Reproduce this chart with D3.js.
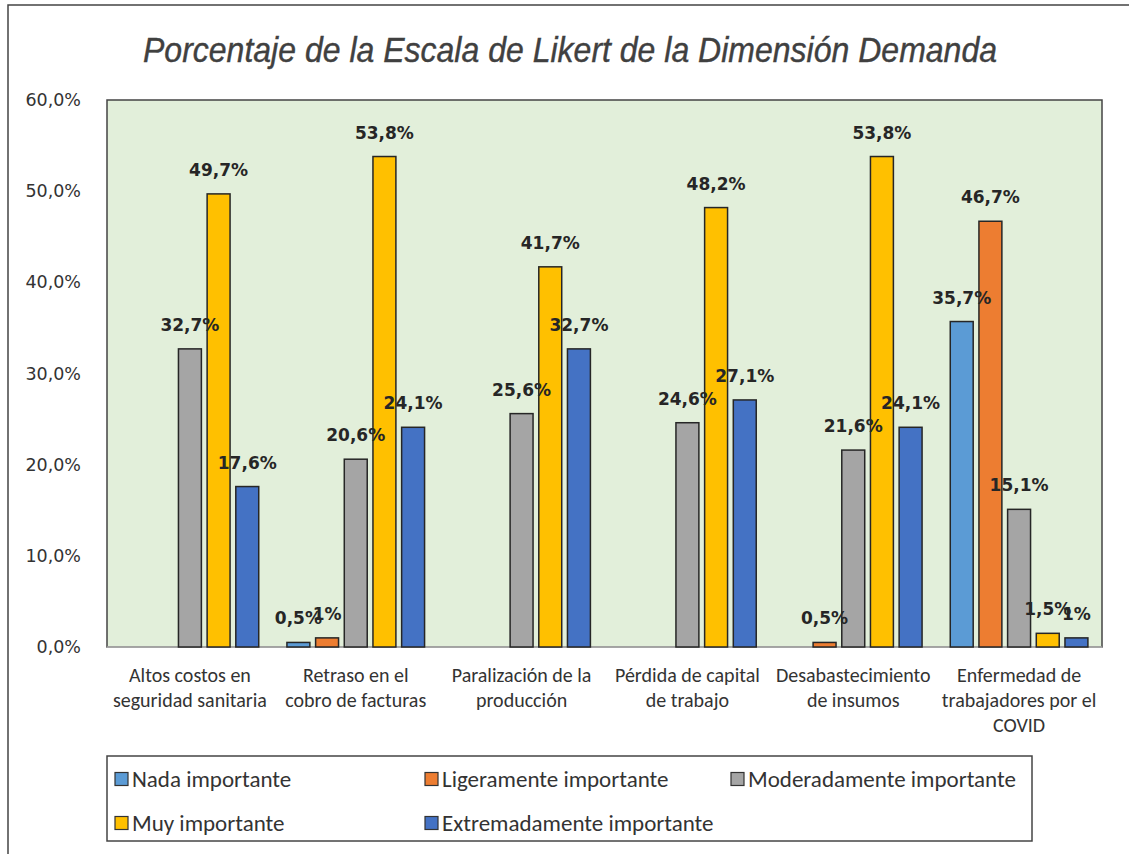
<!DOCTYPE html>
<html>
<head>
<meta charset="utf-8">
<script src="https://cdn.jsdelivr.net/npm/d3@7"></script>
<style>
  body { margin: 0; background: #fff; }
</style>
</head>
<body>
<div id="chart"></div>
<script>
// Chart data
const categories = [
  ["Altos costos en", "seguridad sanitaria"],
  ["Retraso en el", "cobro de facturas"],
  ["Paralización de la", "producción"],
  ["Pérdida de capital", "de trabajo"],
  ["Desabastecimiento", "de insumos"],
  ["Enfermedad de", "trabajadores por el", "COVID"]
];
const seriesNames = ["Nada importante", "Ligeramente importante", "Moderadamente importante", "Muy importante", "Extremadamente importante"];
const seriesColors = ["#5B9BD5", "#ED7D31", "#A5A5A5", "#FFC000", "#4472C4"];
const nada = [0, 0.5, 0, 0, 0, 35.7];
const ligeramente = [0, 1, 0, 0, 0.5, 46.7];
const moderadamente = [32.7, 20.6, 25.6, 24.6, 21.6, 15.1];
const muy = [49.7, 53.8, 41.7, 48.2, 53.8, 1.5];
const extremadamente = [17.6, 24.1, 32.7, 27.1, 24.1, 1];
const yTicks = [0, 10, 20, 30, 40, 50, 60];

const series = [nada, ligeramente, moderadamente, muy, extremadamente];
const fmtLabel = v => (v === 1 ? "1%" : d3.format(".1f")(v).replace(".", ",") + "%");

const W = 1129, H = 854;
const plot = { left: 107, right: 1102, top: 100, bottom: 647 };

const svg = d3.select("#chart").append("svg")
  .attr("width", W).attr("height", H);

// outer chart border
svg.append("rect")
  .attr("x", 8).attr("y", 5).attr("width", W + 20).attr("height", H + 20)
  .attr("fill", "#fff").attr("stroke", "#444").attr("stroke-width", 1.5);

// title
svg.append("text")
  .attr("x", 570).attr("y", 62)
  .attr("text-anchor", "middle")
  .attr("font-family", "Liberation Sans, Arial, sans-serif")
  .attr("font-style", "italic")
  .attr("font-size", 35)
  .attr("fill", "#404040")
  .attr("stroke", "#404040").attr("stroke-width", 0.4)
  .attr("textLength", 854)
  .attr("lengthAdjust", "spacingAndGlyphs")
  .text("Porcentaje de la Escala de Likert de la Dimensión Demanda");

// scales
const x0 = d3.scaleBand()
  .domain(d3.range(categories.length))
  .range([plot.left, plot.right])
  .paddingInner(0.17).paddingOuter(0.085);

const x1 = d3.scaleBand()
  .domain(d3.range(series.length))
  .range([0, x0.bandwidth()])
  .paddingInner(0.2);

const y = d3.scaleLinear().domain([0, 60]).range([plot.bottom, plot.top]);

// plot background
svg.append("rect")
  .attr("x", plot.left).attr("y", plot.top)
  .attr("width", plot.right - plot.left).attr("height", plot.bottom - plot.top)
  .attr("fill", "#E2EFDA").attr("stroke", "#444").attr("stroke-width", 1.5);

// y axis labels
const yAxis = svg.append("g")
  .attr("transform", `translate(${plot.left - 23},0)`)
  .call(d3.axisLeft(y).tickValues(yTicks).tickSize(0)
    .tickFormat(d => d3.format(".1f")(d).replace(".", ",") + "%"));
yAxis.select(".domain").remove();
yAxis.selectAll("text")
  .attr("font-family", "DejaVu Sans, Verdana, sans-serif")
  .attr("font-size", 17.5)
  .attr("fill", "#333");

// baseline
svg.append("line")
  .attr("x1", plot.left).attr("x2", plot.right)
  .attr("y1", y(0)).attr("y2", y(0))
  .attr("stroke", "#d9d9d9").attr("stroke-width", 1);

// bars
const groups = svg.selectAll(".grp")
  .data(categories)
  .join("g")
  .attr("class", "grp")
  .attr("transform", (d, i) => `translate(${x0(i)},0)`);

groups.each(function(c, ci) {
  const g = d3.select(this);
  series.forEach((s, si) => {
    const v = s[ci];
    if (v <= 0) return;
    g.append("rect")
      .attr("x", x1(si))
      .attr("y", y(v))
      .attr("width", x1.bandwidth())
      .attr("height", y(0) - y(v))
      .attr("fill", seriesColors[si])
      .attr("stroke", "#262626")
      .attr("stroke-width", 1.5);
  });
  series.forEach((s, si) => {
    const v = s[ci];
    if (v <= 0) return;
    g.append("text")
      .attr("x", x1(si) + x1.bandwidth() / 2)
      .attr("y", y(v) - 18)
      .attr("text-anchor", "middle")
      .attr("font-family", "DejaVu Sans, Verdana, sans-serif")
      .attr("font-weight", "bold")
      .attr("font-size", 17)
      .attr("fill", "#262626")
      .text(fmtLabel(v));
  });
});

// category labels
const catLabels = svg.selectAll(".cat")
  .data(categories)
  .join("text")
  .attr("class", "cat")
  .attr("text-anchor", "middle")
  .attr("font-family", "Carlito, Lato, sans-serif")
  .attr("font-size", 20)
  .attr("fill", "#333")
  .attr("transform", (d, i) => `translate(${x0(i) + x0.bandwidth() / 2},${plot.bottom + 35})`);
catLabels.selectAll("tspan")
  .data(d => d)
  .join("tspan")
  .attr("x", 0)
  .attr("dy", (d, i) => i === 0 ? 0 : 25)
  .text(d => d);

// legend
const legend = svg.append("g");
legend.append("rect")
  .attr("x", 107).attr("y", 756).attr("width", 925).attr("height", 85)
  .attr("fill", "#fff").attr("stroke", "#444").attr("stroke-width", 1.5);

const legendPos = [[115, 779], [425, 779], [731, 779], [115, 823], [425, 823]];
const items = legend.selectAll(".item")
  .data(seriesNames)
  .join("g")
  .attr("class", "item")
  .attr("transform", (d, i) => `translate(${legendPos[i][0]},${legendPos[i][1]})`);
items.append("rect")
  .attr("x", 0).attr("y", -6.5).attr("width", 13).attr("height", 13)
  .attr("fill", (d, i) => seriesColors[i])
  .attr("stroke", "#333").attr("stroke-width", 1.2);
items.append("text")
  .attr("x", 17).attr("y", 8)
  .attr("font-family", "Carlito, Lato, sans-serif")
  .attr("font-size", 23)
  .attr("fill", "#333")
  .text(d => d);
</script>
</body>
</html>
